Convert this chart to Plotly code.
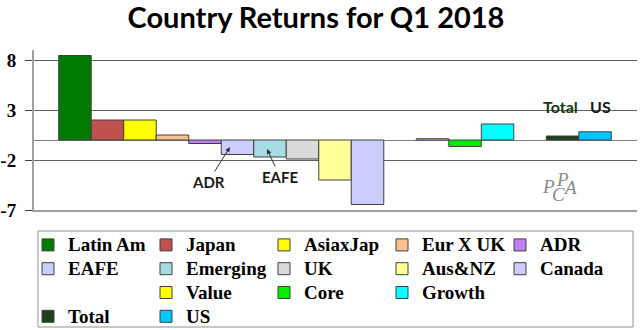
import plotly.graph_objects as go

# ---- data ----
series = ["Latin Am", "Japan", "AsiaxJap", "Eur X UK", "ADR",
          "EAFE", "Emerging", "UK", "Aus&NZ", "Canada",
          " ", "Value", "Core", "Growth", "  ",
          "Total", "US"]
values = [8.45, 2.0, 2.0, 0.5, -0.35,
          -1.45, -1.7, -1.9, -4.0, -6.45,
          None, 0.13, -0.65, 1.6, None,
          0.4, 0.82]
colors = ["#007A00", "#C0504D", "#FFFF00", "#FAC090", "#C080F0",
          "#CCCCFF", "#A8DCE4", "#DADADA", "#FFFF99", "#CCCCFF",
          "rgba(0,0,0,0)", "#FFFF00", "#00F000", "#00FFFF", "rgba(0,0,0,0)",
          "#1C401C", "#00C8FF"]
y_ticks = [8, 3, -2, -7]

W, H = 640, 330
L, R, T, B = 34, 3, 50, 120
XR = [-0.26, 18.29]
YR = [-7, 9]
pw, ph = W - L - R, H - T - B


def px2x(px):
    return XR[0] + (px - L) / pw * (XR[1] - XR[0])


def py2y(py):
    return YR[1] - (py - T) / ph * (YR[1] - YR[0])


def px2paper(px):
    return (px - L) / pw


def py2paper(py):
    return 1 - (py - T) / ph


fig = go.Figure()
for i, (name, v, c) in enumerate(zip(series, values, colors)):
    blank = name.strip() == ""
    label = name if blank else '<span style="font-size:19px">%s</span>' % name
    fig.add_trace(go.Bar(
        x=[i + 1], y=[v], name=label, width=1,
        marker=dict(color=c,
                    line=dict(color="rgba(0,0,0,0)" if blank else "#404040",
                              width=0 if blank else 1)),
        hoverinfo="skip" if blank else None,
    ))

ann_font = dict(family="Lato, sans-serif", size=15, color="#1a1a1a")
annotations = [
    dict(x=px2x(230), y=py2y(147), ax=px2x(208), ay=py2y(182), xref="x", yref="y",
         axref="x", ayref="y", text="<b>ADR</b>", showarrow=True, arrowhead=2,
         arrowsize=1, arrowwidth=1, arrowcolor="#333", font=ann_font),
    dict(x=px2x(267), y=py2y(149), ax=px2x(280), ay=py2y(177), xref="x", yref="y",
         axref="x", ayref="y", text="<b>EAFE</b>", showarrow=True, arrowhead=2,
         arrowsize=1, arrowwidth=1, arrowcolor="#333", font=ann_font),
    dict(x=px2x(560), y=py2y(106), xref="x", yref="y", text="<b>Total</b>",
         showarrow=False, font=dict(family="Lato, sans-serif", size=16, color="#143814")),
    dict(x=px2x(600), y=py2y(106), xref="x", yref="y", text="<b>US</b>",
         showarrow=False, font=dict(family="Lato, sans-serif", size=16, color="#1a1a1a")),
]
logo_font = dict(family="Liberation Serif, serif", size=19, color="#8a8a8a")
for ch, cx, cy in [("P", 548, 186), ("C", 558, 194), ("P", 562, 179), ("A", 570, 187)]:
    annotations.append(dict(x=px2paper(cx), y=py2paper(cy), xref="paper", yref="paper",
                            text="<i>%s</i>" % ch, showarrow=False, font=logo_font,
                            xanchor="center", yanchor="middle"))

fig.update_layout(
    width=W, height=H,
    margin=dict(l=L, r=R, t=T, b=B, autoexpand=False),
    paper_bgcolor="white", plot_bgcolor="white",
    barmode="overlay",
    title=dict(text="<b>Country Returns for Q1 2018</b>", x=316 / W, xanchor="center",
               y=1 - 18 / H, yanchor="middle", yref="container",
               font=dict(family="Lato, sans-serif", size=29, color="black")),
    xaxis=dict(range=XR, showticklabels=False, showgrid=False, zeroline=False,
               showline=True, linecolor="#a0a0a0", linewidth=2, fixedrange=True),
    yaxis=dict(range=YR, tickvals=y_ticks, ticktext=[str(t) for t in y_ticks],
               showgrid=True, gridcolor="#606060", gridwidth=1,
               zeroline=True, zerolinecolor="#808080", zerolinewidth=1,
               showline=True, linecolor="#a0a0a0", linewidth=2,
               ticks="outside", ticklen=7, tickcolor="#404040",
               ticklabelstandoff=5,
               tickfont=dict(family="Liberation Serif, serif", size=19, color="black",
                             weight="bold"),
               fixedrange=True),
    showlegend=True,
    legend=dict(orientation="h", xref="container", yref="container",
                x=28 / W, xanchor="left",
                y=1 - 228 / H, yanchor="top",
                entrywidth=73, entrywidthmode="pixels",
                traceorder="normal", tracegroupgap=0,
                borderwidth=0, bgcolor="rgba(0,0,0,0)",
                font=dict(family="Liberation Serif, serif", size=16, color="black",
                          weight="bold")),
    shapes=[dict(type="rect", xref="paper", yref="paper",
                 x0=px2paper(38), x1=px2paper(633), y0=py2paper(231), y1=py2paper(327),
                 line=dict(color="#909090", width=1), fillcolor="rgba(0,0,0,0)",
                 layer="below")],
    annotations=annotations,
)

fig.write_html("out.html")
